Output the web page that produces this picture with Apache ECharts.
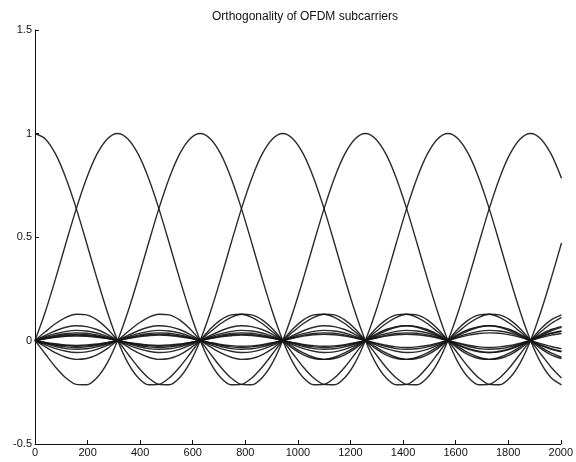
<!DOCTYPE html>
<html>
<head>
<meta charset="utf-8">
<script src="https://cdn.jsdelivr.net/npm/echarts@6/dist/echarts.min.js"></script>
<style>
  html, body { margin: 0; padding: 0; background: #fff; }
  #chart { width: 576px; height: 462px; }
</style>
</head>
<body>
<div id="chart"></div>
<script>
// Sample positions (one eighth of a subcarrier lobe apart)
const samplePos = [0, 39.3, 78.5, 117.8, 157.1, 196.3, 235.6, 274.9, 314.2, 353.4, 392.7, 432.0, 471.2,
  510.5, 549.8, 589.0, 628.3, 667.6, 706.9, 746.1, 785.4, 824.7, 863.9, 903.2, 942.5, 981.7, 1021.0,
  1060.3, 1099.6, 1138.8, 1178.1, 1217.4, 1256.6, 1295.9, 1335.2, 1374.4, 1413.7, 1453.0, 1492.3,
  1531.5, 1570.8, 1610.1, 1649.3, 1688.6, 1727.9, 1767.1, 1806.4, 1845.7, 1885.0, 1924.2, 1963.5, 2002.8];

// Subcarrier responses at the sample positions
const sub0 = [1, 0.974, 0.9, 0.784, 0.637, 0.471, 0.3, 0.139, 0, -0.108, -0.18, -0.214, -0.212, -0.181, -0.129, -0.065, 0, 0.057, 0.1, 0.124, 0.127, 0.112, 0.082, 0.042, 0, -0.039, -0.069, -0.087, -0.091, -0.081, -0.06, -0.031, 0, 0.03, 0.053, 0.067, 0.071, 0.064, 0.047, 0.025, 0, -0.024, -0.043, -0.055, -0.058, -0.052, -0.039, -0.021, 0, 0.02, 0.036, 0.046];
const sub1 = [0, 0.139, 0.3, 0.471, 0.637, 0.784, 0.9, 0.974, 1, 0.974, 0.9, 0.784, 0.637, 0.471, 0.3, 0.139, 0, -0.108, -0.18, -0.214, -0.212, -0.181, -0.129, -0.065, 0, 0.057, 0.1, 0.124, 0.127, 0.112, 0.082, 0.042, 0, -0.039, -0.069, -0.087, -0.091, -0.081, -0.06, -0.031, 0, 0.03, 0.053, 0.067, 0.071, 0.064, 0.047, 0.025, 0, -0.024, -0.043, -0.055];
const sub2 = [0, -0.065, -0.129, -0.181, -0.212, -0.214, -0.18, -0.108, 0, 0.139, 0.3, 0.471, 0.637, 0.784, 0.9, 0.974, 1, 0.974, 0.9, 0.784, 0.637, 0.471, 0.3, 0.139, 0, -0.108, -0.18, -0.214, -0.212, -0.181, -0.129, -0.065, 0, 0.057, 0.1, 0.124, 0.127, 0.112, 0.082, 0.042, 0, -0.039, -0.069, -0.087, -0.091, -0.081, -0.06, -0.031, 0, 0.03, 0.053, 0.067];
const sub3 = [0, 0.042, 0.082, 0.112, 0.127, 0.124, 0.1, 0.057, 0, -0.065, -0.129, -0.181, -0.212, -0.214, -0.18, -0.108, 0, 0.139, 0.3, 0.471, 0.637, 0.784, 0.9, 0.974, 1, 0.974, 0.9, 0.784, 0.637, 0.471, 0.3, 0.139, 0, -0.108, -0.18, -0.214, -0.212, -0.181, -0.129, -0.065, 0, 0.057, 0.1, 0.124, 0.127, 0.112, 0.082, 0.042, 0, -0.039, -0.069, -0.087];
const sub4 = [0, -0.031, -0.06, -0.081, -0.091, -0.087, -0.069, -0.039, 0, 0.042, 0.082, 0.112, 0.127, 0.124, 0.1, 0.057, 0, -0.065, -0.129, -0.181, -0.212, -0.214, -0.18, -0.108, 0, 0.139, 0.3, 0.471, 0.637, 0.784, 0.9, 0.974, 1, 0.974, 0.9, 0.784, 0.637, 0.471, 0.3, 0.139, 0, -0.108, -0.18, -0.214, -0.212, -0.181, -0.129, -0.065, 0, 0.057, 0.1, 0.124];
const sub5 = [0, 0.025, 0.047, 0.064, 0.071, 0.067, 0.053, 0.03, 0, -0.031, -0.06, -0.081, -0.091, -0.087, -0.069, -0.039, 0, 0.042, 0.082, 0.112, 0.127, 0.124, 0.1, 0.057, 0, -0.065, -0.129, -0.181, -0.212, -0.214, -0.18, -0.108, 0, 0.139, 0.3, 0.471, 0.637, 0.784, 0.9, 0.974, 1, 0.974, 0.9, 0.784, 0.637, 0.471, 0.3, 0.139, 0, -0.108, -0.18, -0.214];
const sub6 = [0, -0.021, -0.039, -0.052, -0.058, -0.055, -0.043, -0.024, 0, 0.025, 0.047, 0.064, 0.071, 0.067, 0.053, 0.03, 0, -0.031, -0.06, -0.081, -0.091, -0.087, -0.069, -0.039, 0, 0.042, 0.082, 0.112, 0.127, 0.124, 0.1, 0.057, 0, -0.065, -0.129, -0.181, -0.212, -0.214, -0.18, -0.108, 0, 0.139, 0.3, 0.471, 0.637, 0.784, 0.9, 0.974, 1, 0.974, 0.9, 0.784];
const sub7 = [0, 0.018, 0.033, 0.044, 0.049, 0.046, 0.036, 0.02, 0, -0.021, -0.039, -0.052, -0.058, -0.055, -0.043, -0.024, 0, 0.025, 0.047, 0.064, 0.071, 0.067, 0.053, 0.03, 0, -0.031, -0.06, -0.081, -0.091, -0.087, -0.069, -0.039, 0, 0.042, 0.082, 0.112, 0.127, 0.124, 0.1, 0.057, 0, -0.065, -0.129, -0.181, -0.212, -0.214, -0.18, -0.108, 0, 0.139, 0.3, 0.471];
const sub8 = [0, -0.015, -0.029, -0.039, -0.042, -0.04, -0.031, -0.017, 0, 0.018, 0.033, 0.044, 0.049, 0.046, 0.036, 0.02, 0, -0.021, -0.039, -0.052, -0.058, -0.055, -0.043, -0.024, 0, 0.025, 0.047, 0.064, 0.071, 0.067, 0.053, 0.03, 0, -0.031, -0.06, -0.081, -0.091, -0.087, -0.069, -0.039, 0, 0.042, 0.082, 0.112, 0.127, 0.124, 0.1, 0.057, 0, -0.065, -0.129, -0.181];
const sub9 = [0, 0.014, 0.026, 0.034, 0.037, 0.035, 0.027, 0.015, 0, -0.015, -0.029, -0.039, -0.042, -0.04, -0.031, -0.017, 0, 0.018, 0.033, 0.044, 0.049, 0.046, 0.036, 0.02, 0, -0.021, -0.039, -0.052, -0.058, -0.055, -0.043, -0.024, 0, 0.025, 0.047, 0.064, 0.071, 0.067, 0.053, 0.03, 0, -0.031, -0.06, -0.081, -0.091, -0.087, -0.069, -0.039, 0, 0.042, 0.082, 0.112];
const sub10 = [0, -0.012, -0.023, -0.031, -0.034, -0.031, -0.024, -0.013, 0, 0.014, 0.026, 0.034, 0.037, 0.035, 0.027, 0.015, 0, -0.015, -0.029, -0.039, -0.042, -0.04, -0.031, -0.017, 0, 0.018, 0.033, 0.044, 0.049, 0.046, 0.036, 0.02, 0, -0.021, -0.039, -0.052, -0.058, -0.055, -0.043, -0.024, 0, 0.025, 0.047, 0.064, 0.071, 0.067, 0.053, 0.03, 0, -0.031, -0.06, -0.081];
const sub11 = [0, 0.011, 0.021, 0.028, 0.03, 0.028, 0.022, 0.012, 0, -0.012, -0.023, -0.031, -0.034, -0.031, -0.024, -0.013, 0, 0.014, 0.026, 0.034, 0.037, 0.035, 0.027, 0.015, 0, -0.015, -0.029, -0.039, -0.042, -0.04, -0.031, -0.017, 0, 0.018, 0.033, 0.044, 0.049, 0.046, 0.036, 0.02, 0, -0.021, -0.039, -0.052, -0.058, -0.055, -0.043, -0.024, 0, 0.025, 0.047, 0.064];
const sub12 = [0, -0.01, -0.019, -0.025, -0.028, -0.026, -0.02, -0.011, 0, 0.011, 0.021, 0.028, 0.03, 0.028, 0.022, 0.012, 0, -0.012, -0.023, -0.031, -0.034, -0.031, -0.024, -0.013, 0, 0.014, 0.026, 0.034, 0.037, 0.035, 0.027, 0.015, 0, -0.015, -0.029, -0.039, -0.042, -0.04, -0.031, -0.017, 0, 0.018, 0.033, 0.044, 0.049, 0.046, 0.036, 0.02, 0, -0.021, -0.039, -0.052];
const sub13 = [0, 0.009, 0.018, 0.023, 0.026, 0.024, 0.018, 0.01, 0, -0.01, -0.019, -0.025, -0.028, -0.026, -0.02, -0.011, 0, 0.011, 0.021, 0.028, 0.03, 0.028, 0.022, 0.012, 0, -0.012, -0.023, -0.031, -0.034, -0.031, -0.024, -0.013, 0, 0.014, 0.026, 0.034, 0.037, 0.035, 0.027, 0.015, 0, -0.015, -0.029, -0.039, -0.042, -0.04, -0.031, -0.017, 0, 0.018, 0.033, 0.044];
const sub14 = [0, -0.009, -0.016, -0.022, -0.024, -0.022, -0.017, -0.009, 0, 0.009, 0.018, 0.023, 0.026, 0.024, 0.018, 0.01, 0, -0.01, -0.019, -0.025, -0.028, -0.026, -0.02, -0.011, 0, 0.011, 0.021, 0.028, 0.03, 0.028, 0.022, 0.012, 0, -0.012, -0.023, -0.031, -0.034, -0.031, -0.024, -0.013, 0, 0.014, 0.026, 0.034, 0.037, 0.035, 0.027, 0.015, 0, -0.015, -0.029, -0.039];
const sub15 = [0, 0.008, 0.015, 0.02, 0.022, 0.02, 0.016, 0.009, 0, -0.009, -0.016, -0.022, -0.024, -0.022, -0.017, -0.009, 0, 0.009, 0.018, 0.023, 0.026, 0.024, 0.018, 0.01, 0, -0.01, -0.019, -0.025, -0.028, -0.026, -0.02, -0.011, 0, 0.011, 0.021, 0.028, 0.03, 0.028, 0.022, 0.012, 0, -0.012, -0.023, -0.031, -0.034, -0.031, -0.024, -0.013, 0, 0.014, 0.026, 0.034];

const subcarriers = [sub0, sub1, sub2, sub3, sub4, sub5, sub6, sub7,
  sub8, sub9, sub10, sub11, sub12, sub13, sub14, sub15];

// Axis ticks
const xTicks = [0, 200, 400, 600, 800, 1000, 1200, 1400, 1600, 1800, 2000];
const yTicks = [-0.5, 0, 0.5, 1, 1.5];

const chartTitle = 'Orthogonality of OFDM subcarriers';

const FONT = '"Liberation Sans", Arial, Helvetica, sans-serif';
const INK = '#141414';

const chart = echarts.init(document.getElementById('chart'), null, { renderer: 'canvas' });

const series = subcarriers.map((vals, i) => ({
  name: 'subcarrier ' + (i + 1),
  type: 'line',
  data: vals.map((v, j) => [samplePos[j], v]),
  showSymbol: false,
  smooth: 0.3,
  clip: true,
  silent: true,
  animation: false,
  lineStyle: { color: INK, width: 1.4, opacity: 0.9 }
}));

chart.setOption({
  animation: false,
  backgroundColor: '#ffffff',
  title: {
    text: chartTitle,
    left: 300,
    top: 6,
    textAlign: 'center',
    textStyle: { fontFamily: FONT, fontSize: 12, fontWeight: 'normal', color: '#111' }
  },
  grid: { left: 35, right: 13, top: 30, bottom: 18, containLabel: false },
  xAxis: {
    type: 'value',
    min: xTicks[0],
    max: xTicks[xTicks.length - 1],
    interval: xTicks[1] - xTicks[0],
    axisLine: { onZero: false, lineStyle: { color: '#111', width: 1 } },
    axisTick: { inside: true, length: 4, lineStyle: { color: '#111' } },
    axisLabel: { margin: 3, fontFamily: FONT, fontSize: 11, color: '#111',
      formatter: v => String(v) },
    splitLine: { show: false }
  },
  yAxis: {
    type: 'value',
    min: yTicks[0],
    max: yTicks[yTicks.length - 1],
    interval: yTicks[1] - yTicks[0],
    axisLine: { show: true, onZero: false, lineStyle: { color: '#111', width: 1 } },
    axisTick: { show: true, inside: true, length: 4, lineStyle: { color: '#111' } },
    axisLabel: { margin: 3, fontFamily: FONT, fontSize: 11, color: '#111',
      formatter: v => String(v) },
    splitLine: { show: false }
  },
  series: series
});
</script>
</body>
</html>
